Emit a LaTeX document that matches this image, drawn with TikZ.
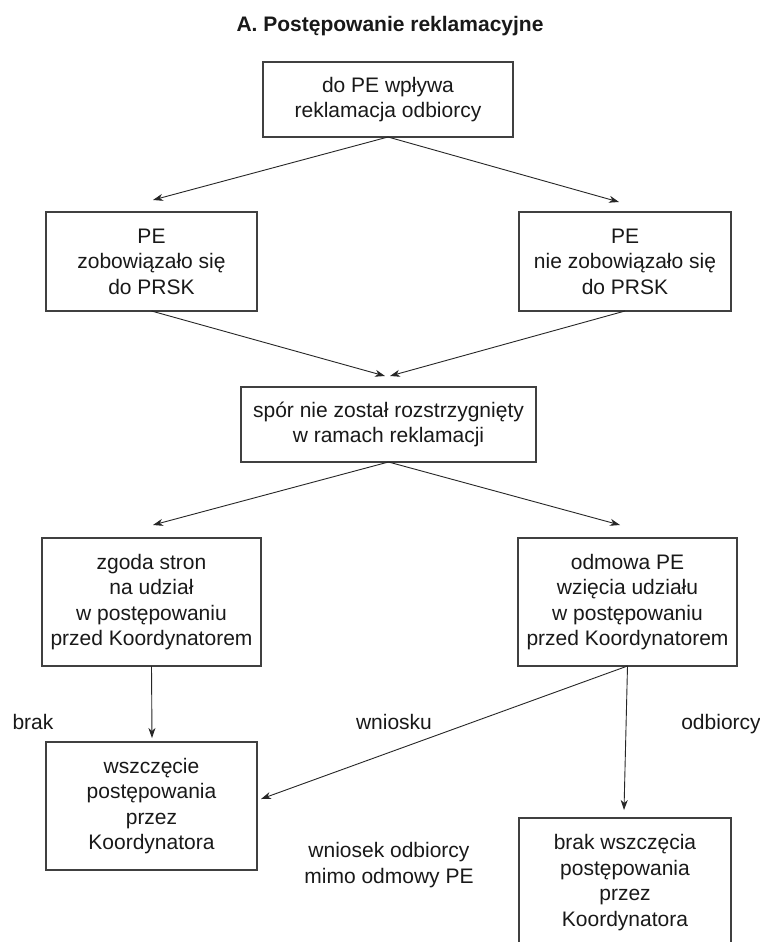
\documentclass[tikz,border=0pt]{standalone}
\usepackage{fontspec}
\setmainfont{Liberation Sans}
\usetikzlibrary{arrows.meta}
\begin{document}
\begin{tikzpicture}[x=1pt,y=-1pt,
  box/.style={draw=black!75, line width=1.1pt, inner sep=0pt, outer sep=0pt, align=center,
    font=\fontsize{21}{25.5}\selectfont, text=black!90},
  lbl/.style={inner sep=0pt, outer sep=0pt, align=center, anchor=base,
    font=\fontsize{21}{25.5}\selectfont, text=black!90},
  conn/.style={draw=black!85, line width=0.9pt, -{Stealth[length=10pt,width=7pt,inset=3pt]}}]
\useasboundingbox (0,0) rectangle (760,942);
\clip (0,0) rectangle (760,942);
\fill[white] (0,0) rectangle (760,942);
% title
\node[lbl, font=\bfseries\fontsize{21}{25}\selectfont] (title) at (390,32) {A. Postępowanie reklamacyjne};
% boxes
\node[box, minimum width=250pt, minimum height=75pt] (b1) at (388,99.5) {do PE wpływa\\reklamacja odbiorcy};
\node[box, minimum width=211pt, minimum height=99pt] (b2) at (151.5,261.5) {PE\\zobowiązało się\\do PRSK};
\node[box, minimum width=212pt, minimum height=99pt] (b3) at (625,261.5) {PE\\nie zobowiązało się\\do PRSK};
\node[box, minimum width=295pt, minimum height=75pt] (b4) at (388.5,424.5) {spór nie został rozstrzygnięty\\w ramach reklamacji};
\node[box, minimum width=219pt, minimum height=128pt] (b5) at (151.5,602) {zgoda stron\\na udział\\w postępowaniu\\przed Koordynatorem};
\node[box, minimum width=219pt, minimum height=128pt] (b6) at (627.5,602) {odmowa PE\\wzięcia udziału\\w postępowaniu\\przed Koordynatorem};
\node[box, minimum width=211pt, minimum height=128pt] (b7) at (151.5,806) {wszczęcie\\postępowania\\przez\\Koordynatora};
\node[box, minimum width=212pt, minimum height=129pt] (b8) at (625,882.5) {brak wszczęcia\\postępowania\\przez\\Koordynatora};
% labels
\node[lbl] (lbrak) at (33,729) {brak};
\node[lbl] (lwn) at (394,729) {wniosku};
\node[lbl] (lodb) at (721,729) {odbiorcy};
\node[lbl] (lmimo) at (389,883) {wniosek odbiorcy\\mimo odmowy PE};
% arrow tips
\coordinate (t2) at (153,200);
\coordinate (t3) at (619,202);
\coordinate (t4a) at (385,376);
\coordinate (t4b) at (390,376);
\coordinate (t5) at (153,525);
\coordinate (t6) at (620,525);
\coordinate (t7a) at (152,738);
\coordinate (t7b) at (261,799);
\coordinate (t8) at (624,810);
% connectors
\draw[conn] (b1.south) -- (t2);
\draw[conn] (b1.south) -- (t3);
\draw[conn] (b2.south) -- (t4a);
\draw[conn] (b3.south) -- (t4b);
\draw[conn] (b4.south) -- (t5);
\draw[conn] (b4.south) -- (t6);
\draw[conn] (b5.south) -- (t7a);
\draw[conn] (b6.south) -- (t7b);
\draw[conn] (b6.south) -- (t8);
\end{tikzpicture}
\end{document}
